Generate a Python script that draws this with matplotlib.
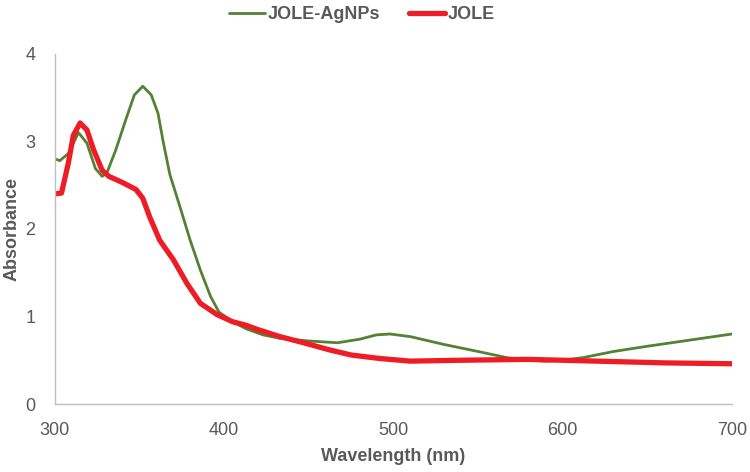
import matplotlib.pyplot as plt

# wavelength (nm) / absorbance
wl_agnp = [300, 303, 308, 314, 319, 324, 328, 331, 336, 342, 347, 352, 357, 361, 364,
           368, 374, 380, 386, 392, 397, 405, 413, 423, 433, 450, 467, 480, 490, 498,
           510, 530, 550, 567, 580, 590, 600, 612, 630, 650, 675, 700]
abs_agnp = [2.80, 2.78, 2.86, 3.10, 2.98, 2.69, 2.60, 2.65, 2.90, 3.25, 3.53, 3.63, 3.53, 3.32, 3.00,
            2.62, 2.25, 1.87, 1.53, 1.23, 1.05, 0.94, 0.86, 0.79, 0.75, 0.72, 0.70, 0.74, 0.79, 0.80,
            0.77, 0.68, 0.60, 0.53, 0.50, 0.49, 0.50, 0.53, 0.60, 0.66, 0.73, 0.80]

wl_jole = [300, 304, 308, 311, 315, 319, 323, 328, 332, 340, 348, 352, 356, 362, 370,
           378, 386, 396, 405, 413, 420, 433, 445, 462, 475, 492, 510, 540, 580, 620, 660, 700]
abs_jole = [2.40, 2.41, 2.75, 3.07, 3.21, 3.13, 2.90, 2.67, 2.60, 2.53, 2.45, 2.35, 2.14, 1.87, 1.65,
            1.38, 1.15, 1.02, 0.94, 0.90, 0.85, 0.77, 0.71, 0.62, 0.56, 0.52, 0.49, 0.50, 0.51, 0.49, 0.47, 0.46]

x_ticks = [300, 400, 500, 600, 700]
y_ticks = [0, 1, 2, 3, 4]

plt.rcParams['font.family'] = ['Liberation Sans', 'DejaVu Sans']
grey = '#595959'

fig = plt.figure(figsize=(7.5, 4.72), dpi=100)
ax = fig.add_axes([0.073, 0.144, 0.903, 0.742])

ax.plot(wl_agnp, abs_agnp, color='#548235', lw=2.0, label='JOLE-AgNPs',
        solid_capstyle='round', solid_joinstyle='round')
ax.plot(wl_jole, abs_jole, color='#EE1C25', lw=3.8, label='JOLE',
        solid_capstyle='round', solid_joinstyle='round')

ax.set_xlim(300, 700)
ax.set_ylim(0, 4)
ax.set_xticks(x_ticks)
ax.set_yticks(y_ticks)
ax.tick_params(axis='x', length=0, labelsize=13, colors=grey, pad=13)
ax.tick_params(axis='y', length=0, labelsize=13, colors=grey, pad=14)
for s in ['top', 'right']:
    ax.spines[s].set_visible(False)
for s in ['left', 'bottom']:
    ax.spines[s].set_color('#BFBFBF')
    ax.spines[s].set_linewidth(1.0)

ax.set_xlabel('Wavelength (nm)', fontsize=13, fontweight='bold', color=grey)
ax.set_ylabel('Absorbance', fontsize=13, fontweight='bold', color=grey)
ax.xaxis.set_label_coords(0.5, -0.125)
ax.yaxis.set_label_coords(-0.05, 0.5)

leg = fig.legend(loc='upper center', bbox_to_anchor=(0.483, 1.022), ncol=2, frameon=False,
                 fontsize=13, handlelength=2.0, handletextpad=0.15, columnspacing=1.6,
                 labelcolor=grey)
for t in leg.get_texts():
    t.set_fontweight('bold')

fig.savefig('out.png', dpi=100)
